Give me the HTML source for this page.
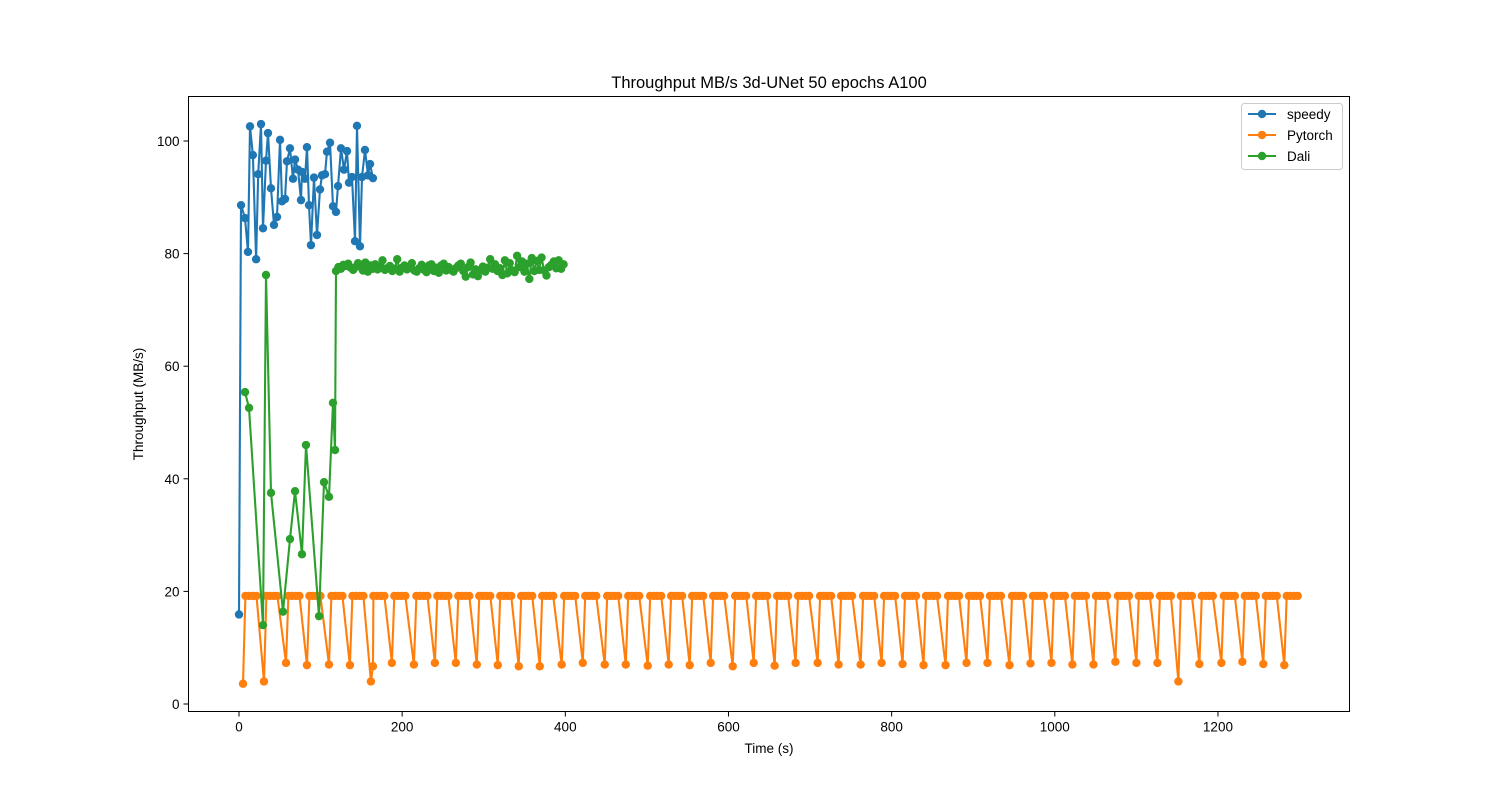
<!DOCTYPE html>
<html><head><meta charset="utf-8"><style>
body{margin:0;background:#fff;}
svg{display:block;font-family:"Liberation Sans","DejaVu Sans",sans-serif;}
</style></head><body>
<svg id="chart" width="1500" height="800">
<rect width="1500" height="800" fill="#fff"/>
<text x="769" y="88" font-size="16.5" text-anchor="middle">Throughput MB/s 3d-UNet 50 epochs A100</text>
<text x="769" y="753" font-size="13.5" text-anchor="middle">Time (s)</text>
<text x="0" y="0" font-size="13.5" text-anchor="middle" transform="translate(143,404) rotate(-90)">Throughput (MB/s)</text>
<g id="ticks"></g>
<g id="series"></g>
<rect x="188.5" y="96.5" width="1161" height="615" fill="none" stroke="#000" stroke-width="1"/>
<g>
<rect x="1241.5" y="103.5" width="101" height="66" rx="3" fill="#fff" fill-opacity="0.8" stroke="#ccc"/>
<g><line x1="1248" y1="114" x2="1276" y2="114" stroke="#1f77b4" stroke-width="2"/><circle cx="1262" cy="114" r="4.2" fill="#1f77b4"/><text x="1287" y="119" font-size="13.5">speedy</text></g>
<g><line x1="1248" y1="135" x2="1276" y2="135" stroke="#ff7f0e" stroke-width="2"/><circle cx="1262" cy="135" r="4.2" fill="#ff7f0e"/><text x="1287" y="140" font-size="13.5">Pytorch</text></g>
<g><line x1="1248" y1="156" x2="1276" y2="156" stroke="#2ca02c" stroke-width="2"/><circle cx="1262" cy="156" r="4.2" fill="#2ca02c"/><text x="1287" y="161" font-size="13.5">Dali</text></g>
</g>
</svg>
<script>
const xTicks=[0,200,400,600,800,1000,1200];
const yTicks=[0,20,40,60,80,100];
const speedyT=[0,2.5,7.4,11,13.5,17,21,23.5,27,29.4,33.1,35.5,39.2,42.9,46.6,50.3,52.7,56.4,58.8,62.5,66.2,68.7,72.3,76,77.2,80.9,83.3,85.8,88.2,91.9,95.6,99.3,101.7,105.4,107.9,111.6,115.2,118.9,121.4,125,128.7,132.4,134.8,138.5,142.2,144.6,148.3,150.8,154.4,158.1,160.6,164.2];
const speedyV=[15.9,88.6,86.3,80.3,102.6,97.5,79.0,94.1,103.0,84.5,96.5,101.4,91.6,85.1,86.5,100.2,89.3,89.7,96.4,98.7,93.3,96.7,94.9,89.5,94.5,93.3,98.9,88.6,81.5,93.5,83.3,91.4,93.9,94.1,98.1,99.7,88.4,87.4,92.0,98.7,94.9,98.2,92.6,93.6,82.2,102.7,81.3,93.6,98.4,93.9,95.9,93.4];
const daliEarlyT=[7.4,12.3,29.4,33.1,39.2,53.9,62.5,68.7,77.2,82.1,98.1,104.2,110.3,115.2,117.7];
const daliEarlyV=[55.4,52.6,14.0,76.2,37.5,16.4,29.3,37.8,26.6,46.0,15.6,39.4,36.8,53.5,45.1];
const daliPlateauStart=118.9, daliPlateauStep=3.0;
const daliPlateauV=[76.9,77.6,77.3,78.0,77.8,78.2,77.5,77.1,77.6,78.3,78.0,77.0,78.4,76.8,77.9,77.3,78.1,77.2,77.6,78.8,77.1,77.4,77.8,76.9,77.3,79.0,76.8,77.5,77.9,77.2,77.6,78.3,77.0,76.8,77.4,78.0,77.1,76.7,77.9,78.1,76.9,77.5,76.6,77.9,78.2,77.0,77.6,77.1,76.8,77.4,77.9,78.2,76.9,75.9,77.6,78.4,76.3,77.2,76.0,77.1,77.7,76.8,77.5,79.0,77.3,78.1,76.9,77.4,76.2,78.8,76.5,78.3,77.0,76.7,79.6,77.6,78.6,76.8,78.2,75.5,79.2,76.9,78.7,77.1,79.3,77.0,76.1,77.6,78.0,78.6,77.4,78.8,77.3,78.1];
const pytorchDipT=[4.9,30.6,57.6,83.3,110.3,136.0,161.7,187.4,214.4,240.1,265.8,291.5,317.2,342.9,368.7,395.6,421.4,448.3,474.1,501.0,526.7,552.5,578.2,605.2,630.9,656.6,682.3,709.3,735.0,762.0,787.7,813.4,839.1,866.1,891.8,917.5,944.5,970.2,995.9,1021.6,1047.4,1074.3,1100.0,1125.8,1151.5,1177.2,1204.2,1229.9,1255.6,1281.3];
const pytorchDipV=[3.6,4.0,7.3,6.9,7.0,6.9,4.0,7.3,7.0,7.3,7.3,7.0,6.9,6.7,6.7,7.0,7.3,7.0,7.0,6.8,7.0,6.9,7.3,6.7,7.3,6.8,7.3,7.3,7.0,7.0,7.3,7.1,6.9,6.9,7.3,7.3,6.9,7.2,7.3,7.0,7.0,7.5,7.3,7.3,4.0,7.1,7.3,7.5,7.1,6.9];
const pytorchTopV=19.2;
const pytorchTopOffsets=[3,7.5,12,16.5];

const X0=188.5,X1=1349.5,Y0=96.5,Y1=711.5;
const xs=t=>239+(t-0)*0.8158;
const ys=v=>704-v*5.63;
const NS='http://www.w3.org/2000/svg';
const mk=(tag,attrs,parent)=>{const e=document.createElementNS(NS,tag);for(const k in attrs)e.setAttribute(k,attrs[k]);parent.appendChild(e);return e;};
const tg=document.getElementById('ticks');
xTicks.forEach(t=>{
  const g=mk('g',{},tg);
  
  
  mk('line',{x1:xs(t),x2:xs(t),y1:Y1,y2:Y1+5,stroke:'#000','stroke-width':1},g);
  const tx=mk('text',{x:xs(t),y:Y1+20,'font-size':13.5,'text-anchor':'middle'},g);tx.textContent=t;
});
yTicks.forEach(v=>{
  const g=mk('g',{},tg);
  
  
  mk('line',{x1:X0-5,x2:X0,y1:ys(v),y2:ys(v),stroke:'#000','stroke-width':1},g);
  const tx=mk('text',{x:X0-9,y:ys(v)+5,'font-size':13.5,'text-anchor':'end'},g);tx.textContent=v;
});
const sg=document.getElementById('series');
function drawSeries(name,T,V,color){
  const g=mk('g',{},sg);
  
  
  const pts=T.map((t,i)=>xs(t).toFixed(1)+','+ys(V[i]).toFixed(1)).join(' ');
  const pl=mk('polyline',{points:pts,fill:'none',stroke:color,'stroke-width':2.1,'stroke-linejoin':'round'},g);
  
  
  T.forEach((t,i)=>{
    const c=mk('circle',{cx:xs(t),cy:ys(V[i]),r:4.2,fill:color},g);
    
    
  });
}
const pT=[],pV=[];
pytorchDipT.forEach((t,i)=>{
  pT.push(t);pV.push(pytorchDipV[i]);
  if(i===6){pT.push(t+2.5);pV.push(6.7);}
  pytorchTopOffsets.forEach(o=>{pT.push(t+o);pV.push(pytorchTopV);});
});
const dT=daliEarlyT.slice(),dV=daliEarlyV.slice();
daliPlateauV.forEach((v,i)=>{dT.push(daliPlateauStart+i*daliPlateauStep);dV.push(v);});
drawSeries('speedy',speedyT,speedyV,'#1f77b4');
drawSeries('pytorch',pT,pV,'#ff7f0e');
drawSeries('dali',dT,dV,'#2ca02c');
</script>
</body></html>
